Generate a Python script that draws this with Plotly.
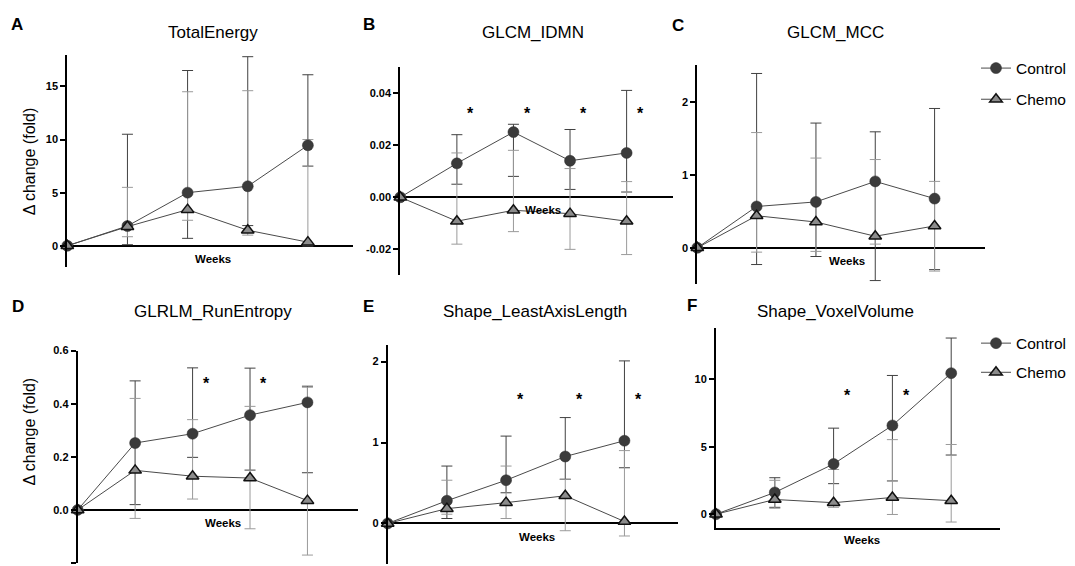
import plotly.graph_objects as go

W, H = 1075, 566
weeks = [0, 1, 2, 3, 4]

# ---------------- data (mean, upper bound, lower bound of error bars) ----------------
A_ctrl = [0, 1.86, 5.0, 5.6, 9.46]
A_ctrl_hi = [0, 10.5, 16.5, 17.8, 16.1]
A_ctrl_lo = [0, 0.1, 0.7, 1.9, 7.5]
A_chemo = [0, 1.8, 3.4, 1.46, 0.34]
A_chemo_hi = [0, 5.5, 14.5, 14.6, 10.0]
A_chemo_lo = [0, 0.85, 2.4, 1.0, 0.0]

B_ctrl = [0, 0.013, 0.025, 0.014, 0.017]
B_ctrl_hi = [0, 0.024, 0.028, 0.026, 0.041]
B_ctrl_lo = [0, 0.005, 0.008, 0.003, 0.002]
B_chemo = [0, -0.0092, -0.005, -0.0063, -0.0092]
B_chemo_hi = [0, 0.017, 0.018, 0.011, 0.006]
B_chemo_lo = [0, -0.018, -0.0132, -0.020, -0.022]

C_ctrl = [0, 0.566, 0.629, 0.91, 0.674]
C_ctrl_hi = [0, 2.39, 1.71, 1.59, 1.91]
C_ctrl_lo = [0, -0.23, -0.12, -0.45, -0.30]
C_chemo = [0, 0.439, 0.353, 0.158, 0.299]
C_chemo_hi = [0, 1.58, 1.23, 1.21, 0.91]
C_chemo_lo = [0, -0.06, -0.05, 0.05, -0.32]

D_ctrl = [0, 0.252, 0.287, 0.357, 0.405]
D_ctrl_hi = [0, 0.486, 0.535, 0.534, 0.466]
D_ctrl_lo = [0, 0.02, 0.198, 0.150, 0.140]
D_chemo = [0, 0.149, 0.127, 0.120, 0.035]
D_chemo_hi = [0, 0.42, 0.340, 0.39, 0.462]
D_chemo_lo = [0, -0.032, 0.041, -0.071, -0.170]

E_ctrl = [0, 0.281, 0.534, 0.827, 1.022]
E_ctrl_hi = [0, 0.709, 1.079, 1.308, 2.008]
E_ctrl_lo = [0, 0.061, 0.379, 0.546, 0.688]
E_chemo = [0, 0.183, 0.257, 0.342, 0.024]
E_chemo_hi = [0, 0.534, 0.709, 0.546, 0.90]
E_chemo_lo = [0, 0.114, 0.061, -0.09, -0.155]

F_ctrl = [0, 1.61, 3.72, 6.57, 10.44]
F_ctrl_hi = [0, 2.70, 6.37, 10.27, 13.04]
F_ctrl_lo = [0, 0.51, 2.26, 2.46, 4.38]
F_chemo = [0, 1.09, 0.85, 1.24, 1.0]
F_chemo_hi = [0, 2.51, 3.31, 5.52, 5.16]
F_chemo_lo = [0, 0.44, 0.51, -0.02, -0.58]

# significance markers (week index, y level)
B_sig = [1, 2, 3, 4]
B_sig_y = 0.033
D_sig = [2, 3]
D_sig_y = 0.482
E_sig = [2, 3, 4]
E_sig_y = 1.552
F_sig = [2, 3]
F_sig_y = 8.9

titles = ["TotalEnergy", "GLCM_IDMN", "GLCM_MCC",
          "GLRLM_RunEntropy", "Shape_LeastAxisLength", "Shape_VoxelVolume"]
letters = ["A", "B", "C", "D", "E", "F"]
series_names = ["Control", "Chemo"]

A_ticks = [0, 5, 10, 15]
A_ticktext = ["0", "5", "10", "15"]
B_ticks = [-0.02, 0, 0.02, 0.04]
B_ticktext = ["-0.02", "0.00", "0.02", "0.04"]
C_ticks = [0, 1, 2]
C_ticktext = ["0", "1", "2"]
D_ticks = [-0.2, 0, 0.2, 0.4, 0.6]
D_ticktext = ["-0.2", "0.0", "0.2", "0.4", "0.6"]
E_ticks = [0, 1, 2]
E_ticktext = ["0", "1", "2"]
F_ticks = [0, 5, 10]
F_ticktext = ["0", "5", "10"]

# ---------------- layout geometry (pixels) ----------------
panels = [
    dict(data=(A_ctrl, A_ctrl_hi, A_ctrl_lo, A_chemo, A_chemo_hi, A_chemo_lo),
         px=(67.3, 353), py=(49.1, 263.8), xr=4.75, yr=(-2, 18),
         ticks=(A_ticks, A_ticktext), sig=None, sig_y=None, bottom_axis=False,
         title_xy=(213, 27), letter_xy=(17, 19), weeks_xy=(212.7, 256)),
    dict(data=(B_ctrl, B_ctrl_hi, B_ctrl_lo, B_chemo, B_chemo_hi, B_chemo_lo),
         px=(400.3, 673), py=(61.6, 272.3), xr=4.82, yr=(-0.03, 0.05),
         ticks=(B_ticks, B_ticktext), sig=B_sig, sig_y=B_sig_y, bottom_axis=False,
         title_xy=(532.5, 27), letter_xy=(369, 19), weeks_xy=(543, 206)),
    dict(data=(C_ctrl, C_ctrl_hi, C_ctrl_lo, C_chemo, C_chemo_hi, C_chemo_lo),
         px=(697.3, 985), py=(60.1, 281.2), xr=4.85, yr=(-0.5, 2.5),
         ticks=(C_ticks, C_ticktext), sig=None, sig_y=None, bottom_axis=False,
         title_xy=(835, 27), letter_xy=(677.5, 20), weeks_xy=(846.7, 257.7)),
    dict(data=(D_ctrl, D_ctrl_hi, D_ctrl_lo, D_chemo, D_chemo_hi, D_chemo_lo),
         px=(77.7, 358), py=(348.3, 563), xr=4.88, yr=(-0.2, 0.6),
         ticks=(D_ticks, D_ticktext), sig=D_sig, sig_y=D_sig_y, bottom_axis=False,
         title_xy=(213.3, 309), letter_xy=(17.5, 304), weeks_xy=(222.7, 522.3)),
    dict(data=(E_ctrl, E_ctrl_hi, E_ctrl_lo, E_chemo, E_chemo_hi, E_chemo_lo),
         px=(387.7, 678.3), py=(343, 563.9), xr=4.91, yr=(-0.5, 2.2),
         ticks=(E_ticks, E_ticktext), sig=E_sig, sig_y=E_sig_y, bottom_axis=False,
         title_xy=(535, 309), letter_xy=(368, 304), weeks_xy=(536.7, 536.7)),
    dict(data=(F_ctrl, F_ctrl_hi, F_ctrl_lo, F_chemo, F_chemo_hi, F_chemo_lo),
         px=(716, 1000), py=(325.9, 527.3), xr=4.83, yr=(-1, 13.75),
         ticks=(F_ticks, F_ticktext), sig=F_sig, sig_y=F_sig_y, bottom_axis=True,
         title_xy=(835, 309), letter_xy=(692, 303), weeks_xy=(862.3, 540)),
]

FONT = "Liberation Sans, Arial, Helvetica, sans-serif"
CTRL_COLOR = "#3b3b3b"
CHEMO_COLOR = "#8c8c8c"
CTRL_ERR = "#404040"
CHEMO_ERR = "#9a9a9a"

fig = go.Figure()
annotations = []
layout_axes = {}


def px2paper_x(v):
    return v / W


def px2paper_y(v):
    return 1 - v / H


for i, p in enumerate(panels):
    n = i + 1
    xa = "x" if n == 1 else f"x{n}"
    ya = "y" if n == 1 else f"y{n}"
    ctrl, ctrl_hi, ctrl_lo, chemo, chemo_hi, chemo_lo = p["data"]

    legend_name = None
    if n == 3:
        legend_name = "legend"
    elif n == 6:
        legend_name = "legend2"

    # error bars first (behind markers)
    for mean, hi, lo, col in ((ctrl, ctrl_hi, ctrl_lo, CTRL_ERR),
                              (chemo, chemo_hi, chemo_lo, CHEMO_ERR)):
        fig.add_trace(go.Scatter(
            x=weeks, y=mean, xaxis=xa, yaxis=ya, mode="markers",
            marker=dict(size=1, color="rgba(0,0,0,0)"),
            error_y=dict(type="data", symmetric=False,
                         array=[h - m for h, m in zip(hi, mean)],
                         arrayminus=[m - l for m, l in zip(mean, lo)],
                         color=col, thickness=1, width=5.5),
            showlegend=False, hoverinfo="skip"))

    fig.add_trace(go.Scatter(
        x=weeks, y=ctrl, xaxis=xa, yaxis=ya, mode="lines+markers",
        name=series_names[0],
        line=dict(color="#4a4a4a", width=1),
        marker=dict(symbol="circle", size=11, color=CTRL_COLOR,
                    line=dict(color="#2a2a2a", width=0.5)),
        cliponaxis=False,
        showlegend=legend_name is not None,
        legend=legend_name if legend_name else "legend",
        legendgroup=f"ctrl{n}"))
    fig.add_trace(go.Scatter(
        x=weeks, y=chemo, xaxis=xa, yaxis=ya, mode="lines+markers",
        name=series_names[1],
        line=dict(color="#4a4a4a", width=1),
        marker=dict(symbol="triangle-up", size=11, color=CHEMO_COLOR,
                    line=dict(color="#111111", width=1.5)),
        cliponaxis=False,
        showlegend=legend_name is not None,
        legend=legend_name if legend_name else "legend",
        legendgroup=f"chemo{n}"))

    xkey = "xaxis" if n == 1 else f"xaxis{n}"
    ykey = "yaxis" if n == 1 else f"yaxis{n}"
    layout_axes[xkey] = dict(
        domain=[px2paper_x(p["px"][0]), px2paper_x(p["px"][1])],
        range=[0, p["xr"]], anchor=ya,
        showticklabels=False, ticks="", showgrid=False, zeroline=False,
        showline=p["bottom_axis"], linecolor="black", linewidth=2,
        fixedrange=True)
    layout_axes[ykey] = dict(
        domain=[px2paper_y(p["py"][1]), px2paper_y(p["py"][0])],
        range=list(p["yr"]), anchor=xa,
        tickvals=p["ticks"][0], ticktext=p["ticks"][1],
        ticks="outside", ticklen=5, tickwidth=2, tickcolor="black",
        tickfont=dict(family=FONT, size=11, color="black", weight="bold"),
        showline=True, linecolor="black", linewidth=2, showgrid=False,
        zeroline=not p["bottom_axis"], zerolinecolor="black", zerolinewidth=2,
        fixedrange=True)

    # titles / letters / weeks labels
    annotations.append(dict(text=titles[i], xref="paper", yref="paper",
                            x=px2paper_x(p["title_xy"][0]), y=px2paper_y(p["title_xy"][1]),
                            xanchor="center", yanchor="middle", showarrow=False,
                            font=dict(family=FONT, size=17, color="black")))
    annotations.append(dict(text=f"<b>{letters[i]}</b>", xref="paper", yref="paper",
                            x=px2paper_x(p["letter_xy"][0]), y=px2paper_y(p["letter_xy"][1]),
                            xanchor="center", yanchor="middle", showarrow=False,
                            font=dict(family=FONT, size=17, color="black")))
    annotations.append(dict(text="<b>Weeks</b>", xref="paper", yref="paper",
                            x=px2paper_x(p["weeks_xy"][0]), y=px2paper_y(p["weeks_xy"][1]),
                            xanchor="center", yanchor="middle", showarrow=False,
                            font=dict(family=FONT, size=11.5, color="black")))
    if p["sig"]:
        for s in p["sig"]:
            annotations.append(dict(text="<b>*</b>", xref=xa, yref=ya,
                                    x=s + 0.24, y=p["sig_y"], xanchor="center",
                                    yanchor="middle", yshift=-2, showarrow=False,
                                    font=dict(family=FONT, size=16, color="black")))

# y-axis titles
for yc in (157, 430):
    annotations.append(dict(text="Δ change (fold)", xref="paper", yref="paper",
                            x=px2paper_x(29), y=px2paper_y(yc), textangle=-90,
                            xanchor="center", yanchor="middle", showarrow=False,
                            font=dict(family=FONT, size=16, color="black")))

fig.update_layout(
    width=W, height=H,
    margin=dict(l=0, r=0, t=0, b=0),
    paper_bgcolor="white", plot_bgcolor="white",
    showlegend=True,
    legend=dict(x=px2paper_x(976), y=px2paper_y(46), xanchor="left", yanchor="top",
                bgcolor="rgba(0,0,0,0)", font=dict(family=FONT, size=15.5, color="black"),
                tracegroupgap=8, itemwidth=30),
    legend2=dict(x=px2paper_x(976), y=px2paper_y(324), xanchor="left", yanchor="top",
                 bgcolor="rgba(0,0,0,0)", font=dict(family=FONT, size=15.5, color="black"),
                 tracegroupgap=6, itemwidth=30),
    annotations=annotations,
    **layout_axes,
)

fig.write_html("out.html",
               config={"displayModeBar": False},
               post_script="document.body.style.margin='0';document.body.style.padding='0';")
